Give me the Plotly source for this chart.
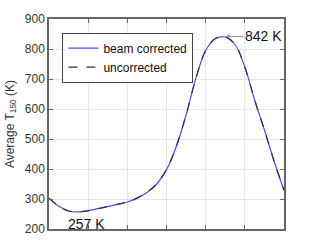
import plotly.graph_objects as go

x_vals = [0.0, 0.25, 0.5, 0.75, 1.0, 1.25, 1.5, 1.75, 2.0, 2.25, 2.5, 2.75, 3.0, 3.25, 3.5, 3.75, 4.0, 4.25, 4.5, 4.75, 5.0, 5.25, 5.5, 5.75, 6.0]
beam_corrected = [303, 276, 260, 257, 261, 268, 275, 282, 290, 303, 322, 350, 398, 475, 580, 702, 795, 835, 840, 815, 740, 630, 530, 425, 329]
uncorrected = [303, 276, 260, 257, 261, 268, 275, 282, 290, 303, 322, 350, 398, 475, 580, 702, 795, 835, 840, 815, 740, 630, 530, 425, 329]

fig = go.Figure()
fig.add_trace(go.Scatter(x=x_vals, y=beam_corrected, mode="lines", name="beam corrected",
                         line=dict(color="#4b4bff", width=1.2, shape="spline", smoothing=1.0)))
fig.add_trace(go.Scatter(x=x_vals, y=uncorrected, mode="lines", name="uncorrected",
                         line=dict(color="#333333", width=1.2, dash="dash", shape="spline", smoothing=1.0)))

fig.add_annotation(x=4.4, y=842, text="842 K", showarrow=True, ax=42, ay=0,
                   arrowhead=2, arrowsize=0.8, arrowwidth=1, arrowcolor="#888888", standoff=4,
                   font=dict(size=14, color="#111111"))
fig.add_annotation(x=0.96, y=217, text="257 K", showarrow=False,
                   font=dict(size=14, color="#111111"))

fig.update_layout(
    width=315, height=240,
    margin=dict(l=49, r=31, t=19, b=11),
    paper_bgcolor="white", plot_bgcolor="white",
    font=dict(family="Liberation Sans, Arial, sans-serif", size=12, color="#333333"),
    legend=dict(x=0.057, y=0.935, xanchor="left", yanchor="top",
                bordercolor="#444444", borderwidth=1, bgcolor="white",
                font=dict(size=12, color="#111111"), tracegroupgap=0),
    showlegend=True,
)
fig.update_xaxes(range=[0, 6], dtick=1, showticklabels=False, showgrid=True, automargin=False,
                 gridcolor="#e6e6e6", ticks="inside", ticklen=4, tickcolor="#666666",
                 showline=True, linecolor="#666666", linewidth=1.5, mirror="ticks", zeroline=False)
fig.update_yaxes(range=[200, 900], dtick=100, showgrid=True, gridcolor="#e6e6e6", automargin=False,
                 ticks="inside", ticklen=4, tickcolor="#666666",
                 showline=True, linecolor="#666666", linewidth=1.5, mirror="ticks", zeroline=False,
                 title=dict(text="Average T<sub>150</sub> (K)", font=dict(size=12, color="#333333"), standoff=8),
                 tickfont=dict(size=12, color="#333333"))

fig.write_html("out.html", config={"displayModeBar": False},
               post_script="document.body.style.margin='0';document.body.style.padding='0';")
